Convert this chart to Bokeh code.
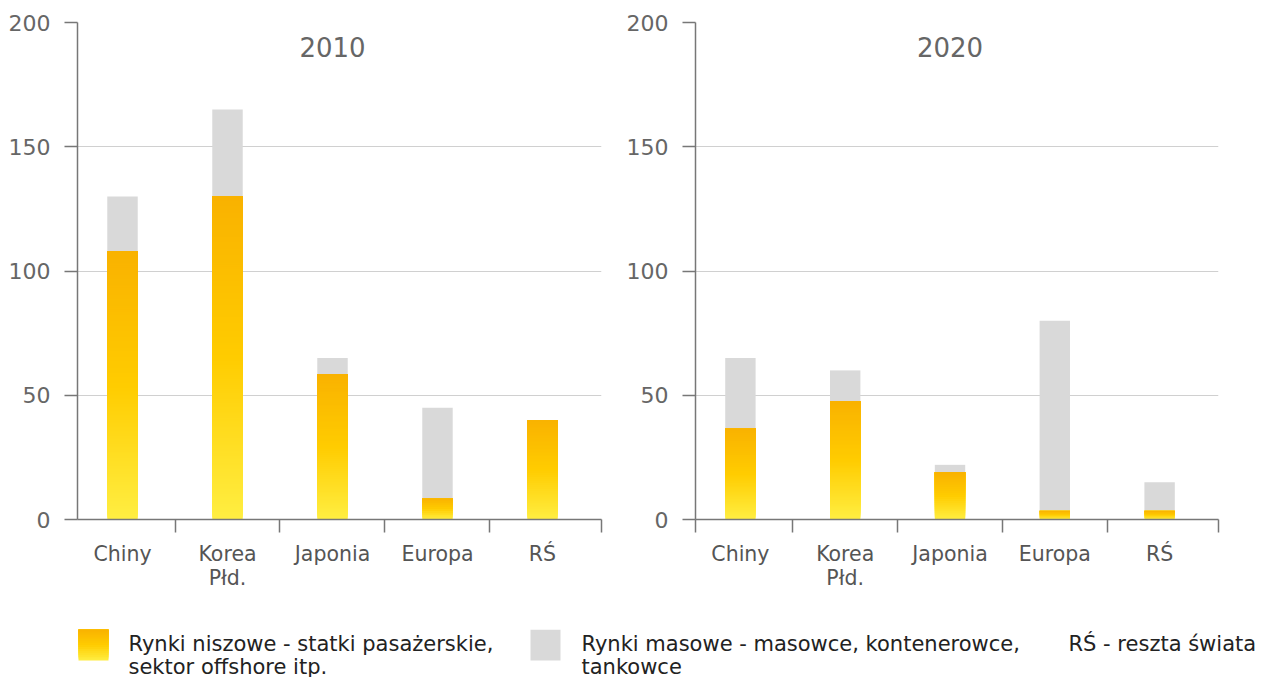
from bokeh.plotting import figure
from bokeh.layouts import column, row
from bokeh.models import FixedTicker, Range1d, ColumnDataSource
from bokeh.core.properties import value
from bokeh.embed import file_html
from bokeh.resources import INLINE

# ---- data ----
categories = ["Chiny", "Korea\nPłd.", "Japonia", "Europa", "RŚ"]
years = ["2010", "2020"]
niche_2010 = [108, 130, 58.5, 8.5, 40]
mass_2010 = [22, 35, 6.5, 36.5, 0]
niche_2020 = [36.5, 47.5, 19, 3.5, 3.5]
mass_2020 = [28.5, 12.5, 3, 76.5, 11.5]
y_ticks = [0, 50, 100, 150, 200]
legend_niche = ["Rynki niszowe - statki pasażerskie,", "sektor offshore itp."]
legend_mass = ["Rynki masowe - masowce, kontenerowce,", "tankowce"]
legend_note = "RŚ - reszta świata"

GREY = "#d9d9d9"
STOPS = [(0.0, (255, 238, 66)), (0.5, (255, 204, 0)), (1.0, (249, 178, 0))]
FONT = "DejaVu Sans"
PX_PER_UNIT = 2.485


def grad_color(t):
    for (t0, c0), (t1, c1) in zip(STOPS[:-1], STOPS[1:]):
        if t <= t1:
            f = (t - t0) / (t1 - t0)
            c = [round(a + (b - a) * f) for a, b in zip(c0, c1)]
            return "#%02x%02x%02x" % tuple(c)
    return "#%02x%02x%02x" % STOPS[-1][1]


def gradient_source(xs, heights):
    xx, bot, top, col = [], [], [], []
    for x, h in zip(xs, heights):
        if h <= 0:
            continue
        n = max(6, int(h * PX_PER_UNIT / 2))
        for k in range(n):
            xx.append(x)
            bot.append(h * k / n)
            top.append(h)
            col.append(grad_color((k + 0.5) / n))
    return ColumnDataSource(dict(x=xx, bottom=bot, top=top, color=col))


X0, X1 = -0.4286, 4.562
BAR_W = 0.29
FIG_H = 629
BOTTOM = 110


def make_panel(year, niche, mass, width, border_right, first_tick):
    xs = list(range(len(categories)))
    p = figure(width=width, height=FIG_H, x_range=Range1d(X0, X1), y_range=Range1d(0, 200),
               output_backend="svg", toolbar_location=None,
               min_border_left=77, min_border_right=border_right,
               min_border_top=22, min_border_bottom=BOTTOM)
    p.outline_line_color = None
    p.background_fill_color = "white"
    p.border_fill_color = "white"
    # grey (mass) part
    p.vbar(x=xs, bottom=niche, top=[n + m for n, m in zip(niche, mass)], width=BAR_W,
           fill_color=GREY, line_color=None)
    # gradient (niche) part
    src = gradient_source(xs, niche)
    p.vbar(x="x", bottom="bottom", top="top", width=BAR_W, fill_color="color",
           line_color=None, source=src)
    # year title
    p.text(x=[2], y=[190], text=[year], text_align="center", text_baseline="middle",
           text_font=value(FONT), text_font_size="26px", text_color="#666666")

    # y axis
    p.yaxis.ticker = FixedTicker(ticks=y_ticks)
    p.yaxis.major_label_text_font = FONT
    p.yaxis.major_label_text_font_size = "22px"
    p.yaxis.major_label_text_color = "#666666"
    p.yaxis.axis_line_color = "#777777"
    p.yaxis.axis_line_width = 1.5
    p.yaxis.major_tick_line_color = "#777777"
    p.yaxis.major_tick_line_width = 1.5
    p.yaxis.major_tick_out = 13
    p.yaxis.major_tick_in = 0
    p.yaxis.minor_tick_line_color = None
    p.yaxis.major_label_standoff = 14
    p.ygrid.grid_line_color = "#d0d0d0"
    p.ygrid.grid_line_width = 1

    # x axis
    minor = [0.5, 1.5, 2.5, 3.5, X1 - 0.001]
    if first_tick:
        minor = [X0 + 0.001] + minor
    p.xaxis.ticker = FixedTicker(ticks=xs, minor_ticks=minor)
    p.xaxis.major_label_overrides = {i: c for i, c in enumerate(categories)}
    p.xaxis.major_label_text_font = FONT
    p.xaxis.major_label_text_font_size = "20.5px"
    p.xaxis.major_label_text_line_height = 1.0
    p.xaxis.major_label_text_color = "#555555"
    p.xaxis.axis_line_color = "#777777"
    p.xaxis.axis_line_width = 1.5
    p.xaxis.major_tick_line_color = None
    p.xaxis.major_tick_out = 0
    p.xaxis.major_tick_in = 0
    p.xaxis.minor_tick_line_color = "#777777"
    p.xaxis.minor_tick_line_width = 1.5
    p.xaxis.minor_tick_out = 13
    p.xaxis.minor_tick_in = 0
    p.xaxis.major_label_standoff = 9
    p.xgrid.grid_line_color = None
    return p


p1 = make_panel(years[0], niche_2010, mass_2010, 618, 17, False)
p2 = make_panel(years[1], niche_2020, mass_2020, 652, 52, True)

# legend strip (y measured downward from its top edge)
LG_H = 677 - FIG_H
lg = figure(width=1270, height=LG_H, x_range=Range1d(0, 1270), y_range=Range1d(LG_H, 0),
            output_backend="svg", toolbar_location=None,
            min_border=0, min_border_left=0, min_border_right=0,
            min_border_top=0, min_border_bottom=0)
lg.axis.visible = False
lg.grid.visible = False
lg.outline_line_color = None
sw_n = 16
lg.quad(left=[78] * sw_n, right=[108] * sw_n,
        top=[0] * sw_n,
        bottom=[31 - 31 * k / sw_n for k in range(sw_n)],
        fill_color=[grad_color((k + 0.5) / sw_n) for k in range(sw_n)], line_color=None)
lg.quad(left=[530], right=[560], top=[0], bottom=[31], fill_color=GREY, line_color=None)
lg.text(x=[128, 128, 581, 581, 1068], y=[14, 37, 14, 37, 14],
        text=legend_niche + legend_mass + [legend_note],
        text_baseline="middle", text_align="left",
        text_font=value(FONT), text_font_size="21px", text_color="#222222")

layout = column(row(p1, p2, spacing=0), lg, spacing=0)
open("out.html", "w").write(file_html(layout, INLINE))
